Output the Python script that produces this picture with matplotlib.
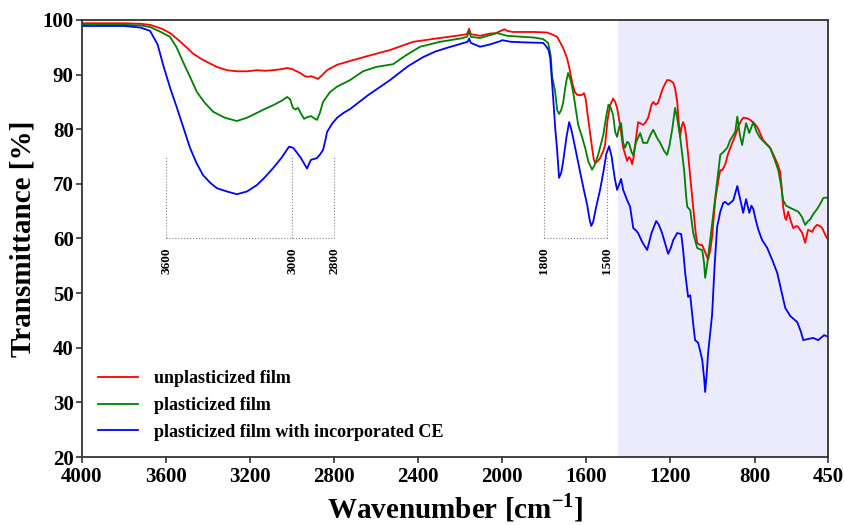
import numpy as np
import matplotlib.pyplot as plt

# FTIR spectra (wavenumber in cm-1, transmittance in %)
wn_blue = [4000, 3800, 3720, 3676, 3640, 3614, 3580, 3548, 3515, 3486, 3455, 3424, 3390, 3358,
           3310, 3263, 3215, 3167, 3130, 3090, 3050, 3015, 2995, 2977, 2958, 2940, 2929, 2918,
           2910, 2882, 2865, 2853, 2840, 2834, 2810, 2786, 2755, 2724, 2640, 2534, 2450, 2377,
           2320, 2263, 2200, 2165, 2158, 2150, 2106, 2060, 2011, 2000, 1960, 1900, 1806, 1796,
           1780, 1772, 1758, 1748, 1740, 1730, 1720, 1711, 1695, 1682, 1672, 1663, 1645, 1630,
           1610, 1596, 1585, 1577, 1568, 1555, 1535, 1520, 1505, 1492, 1480, 1465, 1454, 1445,
           1435, 1425, 1406, 1392, 1377, 1365, 1354, 1335, 1311, 1290, 1268, 1255, 1240, 1225,
           1211, 1198, 1187, 1168, 1149, 1140, 1130, 1116, 1106, 1095, 1083, 1068, 1049, 1040,
           1035, 1028, 1021, 1010, 1002, 990, 978, 963, 949, 940, 925, 901, 890, 882, 870, 854,
           840, 825, 815, 806, 795, 782, 764, 740, 715, 692, 670, 654, 630, 597, 580, 568, 545,
           521, 497, 469, 450]
t_blue = [98.9, 98.9, 98.6, 98.0, 95.5, 91.8, 87.5, 83.9, 80.0, 76.6, 73.8, 71.6, 70.2, 69.2,
          68.6, 68.1, 68.6, 69.8, 71.2, 72.9, 74.8, 76.8, 76.6, 75.7, 74.7, 73.5, 72.8, 73.8,
          74.4, 74.7, 75.5, 76.2, 78.3, 79.5, 81.0, 82.1, 83.0, 83.7, 86.2, 89.0, 91.5, 93.2,
          94.2, 94.9, 95.6, 96.0, 96.6, 95.8, 95.1, 95.5, 96.1, 96.3, 96.0, 95.9, 95.8, 95.4,
          94.5, 93.0, 85.7, 80.0, 76.6, 71.1, 72.0, 74.0, 78.5, 81.3, 80.0, 78.4, 75.0, 72.2,
          68.5, 66.1, 63.5, 62.3, 63.0, 65.5, 68.9, 72.0, 75.5, 76.9, 75.0, 71.0, 68.9, 69.8,
          70.9, 68.9, 67.0, 65.8, 61.9, 61.5, 61.0, 59.4, 57.9, 61.0, 63.2, 62.5, 61.0, 59.0,
          57.2, 58.3, 59.7, 61.0, 60.8, 58.0, 53.7, 49.3, 49.6, 45.5, 41.4, 40.9, 37.8, 34.5,
          31.9, 35.0, 39.0, 43.0, 46.0, 55.0, 62.1, 64.9, 66.5, 66.7, 66.2, 67.0, 68.5, 69.6,
          67.5, 64.7, 67.2, 64.7, 66.0, 65.4, 63.5, 61.6, 59.7, 58.3, 56.0, 53.7, 50.0, 47.3,
          45.8, 44.7, 43.0, 41.4, 41.6, 41.8, 41.4, 42.3, 42.0]

wn_green = [4000, 3800, 3720, 3676, 3630, 3581, 3550, 3519, 3485, 3453, 3415, 3376, 3320, 3263,
            3215, 3167, 3130, 3090, 3050, 3024, 3010, 2996, 2985, 2972, 2960, 2943, 2930, 2910,
            2895, 2882, 2868, 2853, 2820, 2786, 2724, 2663, 2600, 2520, 2460, 2391, 2296, 2200,
            2168, 2158, 2150, 2106, 2060, 2025, 1977, 1900, 1853, 1806, 1782, 1770, 1763, 1749,
            1739, 1730, 1720, 1711, 1697, 1687, 1675, 1663, 1650, 1639, 1620, 1606, 1590, 1573,
            1560, 1544, 1520, 1505, 1495, 1485, 1473, 1463, 1454, 1444, 1435, 1425, 1416, 1406,
            1397, 1385, 1377, 1365, 1344, 1330, 1311, 1295, 1282, 1265, 1249, 1230, 1216, 1205,
            1192, 1178, 1168, 1154, 1135, 1125, 1120, 1106, 1092, 1073, 1060, 1049, 1040, 1035,
            1028, 1011, 987, 963, 949, 930, 916, 892, 882, 870, 859, 848, 840, 825, 806, 790,
            773, 750, 726, 705, 687, 675, 664, 650, 630, 592, 575, 559, 545, 535, 520, 502, 485,
            473, 460, 450]
t_green = [99.1, 99.1, 99.0, 98.7, 97.9, 96.9, 95.0, 92.3, 89.5, 86.8, 84.8, 83.2, 82.1, 81.5,
           82.1, 83.0, 83.7, 84.4, 85.2, 85.9, 85.5, 83.9, 83.6, 83.9, 83.0, 81.9, 82.2, 82.4,
           82.0, 81.7, 83.0, 85.0, 86.8, 87.8, 89.0, 90.6, 91.4, 91.9, 93.5, 95.1, 96.0, 96.6,
           96.9, 98.0, 96.9, 96.7, 97.2, 97.6, 97.1, 96.9, 96.8, 96.5, 95.8, 93.5, 89.6, 87.0,
           83.5, 82.8, 83.5, 84.8, 88.5, 90.3, 89.0, 86.8, 83.5, 80.8, 78.5, 76.6, 74.0, 72.6,
           73.5, 75.3, 78.9, 82.5, 84.5, 84.0, 82.6, 79.5, 78.6, 80.4, 81.1, 77.5, 76.6, 77.7,
           77.4, 75.8, 75.2, 77.5, 79.3, 77.5, 77.5, 79.0, 79.9, 78.5, 77.5, 76.0, 75.3, 77.0,
           79.9, 83.9, 82.0, 78.6, 72.5, 67.5, 65.8, 65.2, 61.0, 58.3, 58.0, 57.9, 55.5, 52.8,
           54.5, 59.7, 67.5, 75.3, 75.8, 76.6, 78.0, 79.5, 82.3, 79.0, 77.1, 79.5, 81.1, 79.3,
           81.3, 79.5, 78.4, 77.5, 76.6, 74.5, 72.5, 70.0, 67.0, 66.0, 65.6, 64.9, 64.0, 62.5,
           63.2, 63.5, 64.5, 65.4, 66.5, 67.4, 67.5, 67.3]

wn_red = [4000, 3800, 3720, 3676, 3620, 3581, 3540, 3500, 3470, 3438, 3400, 3358, 3310, 3263,
          3215, 3167, 3130, 3090, 3050, 3024, 3000, 2962, 2940, 2924, 2910, 2901, 2877, 2860,
          2834, 2786, 2724, 2650, 2534, 2424, 2296, 2200, 2168, 2158, 2150, 2106, 2060, 2030,
          1990, 1977, 1949, 1850, 1787, 1760, 1739, 1711, 1692, 1680, 1668, 1655, 1644, 1625,
          1611, 1603, 1596, 1585, 1573, 1565, 1558, 1545, 1535, 1520, 1511, 1500, 1487, 1473,
          1463, 1454, 1440, 1425, 1406, 1397, 1390, 1382, 1375, 1368, 1354, 1340, 1330, 1318,
          1306, 1290, 1282, 1270, 1259, 1245, 1235, 1216, 1200, 1187, 1178, 1168, 1160, 1154,
          1147, 1140, 1132, 1125, 1115, 1106, 1092, 1080, 1073, 1060, 1049, 1035, 1021, 1010,
          1002, 987, 973, 963, 954, 940, 925, 906, 890, 878, 865, 854, 835, 820, 800, 787, 773,
          759, 740, 726, 711, 692, 678, 670, 664, 655, 649, 640, 630, 616, 600, 592, 573, 565,
          559, 552, 545, 535, 526, 515, 502, 490, 478, 465, 459, 450]
t_red = [99.4, 99.4, 99.3, 99.1, 98.4, 97.6, 96.3, 94.9, 93.8, 93.0, 92.2, 91.4, 90.8, 90.6,
         90.6, 90.8, 90.7, 90.8, 91.0, 91.2, 91.0, 90.3, 89.7, 89.6, 89.7, 89.6, 89.2, 89.8,
         90.8, 91.8, 92.5, 93.3, 94.5, 96.0, 96.7, 97.2, 97.4, 98.4, 97.4, 97.1, 97.5, 97.6,
         98.3, 98.0, 97.8, 97.8, 97.7, 97.3, 96.9, 94.9, 93.0, 91.0, 88.6, 86.8, 86.3, 86.2,
         86.6, 85.5, 83.2, 80.0, 76.6, 74.5, 73.8, 74.2, 74.7, 76.0, 77.1, 81.5, 84.4, 85.6,
         85.0, 83.9, 80.8, 76.6, 74.2, 74.9, 74.6, 73.6, 75.0, 77.1, 81.3, 81.0, 80.8, 81.3,
         82.1, 84.5, 85.0, 84.5, 84.8, 86.5, 87.6, 89.0, 88.9, 88.5, 87.5, 85.0, 81.0, 78.6,
         80.5, 81.3, 80.5, 78.6, 75.0, 71.3, 65.8, 61.0, 59.2, 58.8, 58.8, 57.5, 56.1, 58.0,
         60.3, 67.0, 70.5, 72.5, 72.5, 73.5, 75.6, 77.5, 79.0, 80.4, 81.5, 82.1, 82.0, 81.7,
         81.0, 80.4, 79.2, 78.0, 77.2, 76.6, 75.4, 73.8, 72.2, 69.0, 65.8, 63.8, 63.4, 64.9,
         63.5, 61.9, 62.3, 62.1, 61.0, 60.0, 59.2, 60.5, 61.6, 61.4, 61.2, 62.0, 62.5, 62.3,
         61.9, 60.8, 60.3, 59.8]

labels = ["unplasticized film", "plasticized film", "plasticized film with incorporated CE"]
xticks = [4000, 3600, 3200, 2800, 2400, 2000, 1600, 1200, 800, 450]
yticks = [20, 30, 40, 50, 60, 70, 80, 90, 100]

plt.rcParams['font.family'] = 'Liberation Serif'
plt.rcParams['font.weight'] = 'bold'
plt.rcParams['mathtext.fontset'] = 'custom'
plt.rcParams['mathtext.rm'] = 'Liberation Serif:bold'
plt.rcParams['mathtext.bf'] = 'Liberation Serif:bold'

fig = plt.figure(figsize=(8.45, 5.25), dpi=100)
ax = fig.add_axes([0.097, 0.1295, 0.883, 0.8325])

# fingerprint region shading
ax.axvspan(1450, 450, color='lavender', alpha=0.8, lw=0, zorder=0)

ax.plot(wn_red, t_red, color='red', lw=1.3, label=labels[0])
ax.plot(wn_green, t_green, color='green', lw=1.3, label=labels[1])
ax.plot(wn_blue, t_blue, color='blue', lw=1.3, label=labels[2])

# dotted brackets marking the bands
br_kw = dict(color='grey', lw=0.8, ls=':')
for x in [3600, 3000, 2800, 1800, 1500]:
    ax.plot([x, x], [60, 75], **br_kw)
    ax.text(x, 58.3, str(x), rotation=90, ha='center', va='top', fontsize=9.5, fontweight='bold')
ax.plot([3600, 2800], [60, 60], **br_kw)
ax.plot([1800, 1500], [60, 60], **br_kw)

ax.set_xlim(4000, 450)
ax.set_ylim(20, 100)
ax.set_xticks(xticks)
ax.set_yticks(yticks)
ax.tick_params(labelsize=15, width=1.2, length=4, color='#333333')
ax.tick_params(axis='x', pad=3)
ax.tick_params(axis='y', pad=2)
for lab in ax.get_xticklabels() + ax.get_yticklabels():
    lab.set_fontweight('bold')
for sp in ax.spines.values():
    sp.set_color('#333333')
    sp.set_linewidth(1.3)

ax.set_xlabel(r"Wavenumber [cm$^{-1}$]", fontsize=21, fontweight='bold', labelpad=3)
ax.set_ylabel("Transmittance [%]", fontsize=21, fontweight='bold', labelpad=4)

ax.legend(loc='lower left', bbox_to_anchor=(0.0, 0.0), frameon=False, fontsize=13,
          handlelength=2.2, handletextpad=0.9, labelspacing=0.55)

fig.savefig('out.png', dpi=100)
